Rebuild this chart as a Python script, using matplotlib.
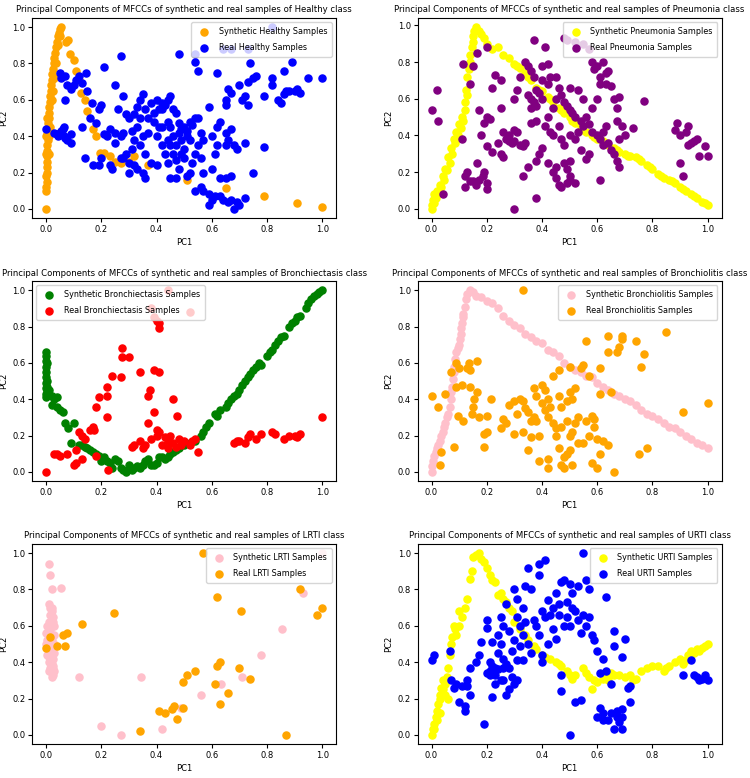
import numpy as np
import matplotlib
matplotlib.use("Agg")
import matplotlib.pyplot as plt

# Healthy
healthy_syn = [
    (0.0, 0.0), (0.0, 0.10), (0.0, 0.12), (0.002, 0.15), (0.0, 0.18), (0.003, 0.20), (0.002, 0.23),
    (0.004, 0.26), (0.003, 0.29), (0.0, 0.30), (0.01, 0.30), (0.005, 0.32), (0.004, 0.35), (0.006, 0.38),
    (0.0, 0.40), (0.01, 0.40), (0.005, 0.41), (0.008, 0.44), (0.015, 0.45), (0.007, 0.47), (0.01, 0.50),
    (0.005, 0.50), (0.011, 0.53), (0.012, 0.56), (0.014, 0.59), (0.02, 0.60), (0.015, 0.62), (0.017, 0.65),
    (0.025, 0.65), (0.019, 0.68), (0.02, 0.71), (0.03, 0.72), (0.022, 0.74), (0.025, 0.77), (0.027, 0.80),
    (0.035, 0.80), (0.03, 0.83), (0.033, 0.86), (0.036, 0.89), (0.045, 0.90), (0.04, 0.92), (0.044, 0.95),
    (0.05, 0.95), (0.048, 0.97), (0.052, 0.99), (0.055, 1.0),
    (0.073, 0.92), (0.079, 0.93), (0.085, 0.85), (0.10, 0.82), (0.107, 0.76), (0.118, 0.71), (0.125, 0.64),
    (0.14, 0.60), (0.148, 0.54), (0.17, 0.44), (0.18, 0.40), (0.195, 0.31), (0.21, 0.31), (0.23, 0.29),
    (0.25, 0.26), (0.27, 0.25), (0.30, 0.26), (0.32, 0.29), (0.37, 0.24), (0.51, 0.16), (0.65, 0.115),
    (0.79, 0.07), (0.91, 0.03), (1.0, 0.01),
]
healthy_real = [
    (0.0, 0.44), (0.03, 0.42), (0.04, 0.41), (0.05, 0.42), (0.06, 0.44), (0.065, 0.40), (0.07, 0.39),
    (0.075, 0.38), (0.09, 0.41), (0.09, 0.36), (0.055, 0.43), (0.045, 0.40), (0.065, 0.45),
    (0.05, 0.75), (0.055, 0.72), (0.07, 0.73), (0.075, 0.68), (0.09, 0.66), (0.10, 0.68), (0.11, 0.71),
    (0.13, 0.69), (0.145, 0.75), (0.15, 0.65), (0.12, 0.73), (0.07, 0.60), (0.165, 0.58), (0.16, 0.50),
    (0.18, 0.47), (0.19, 0.55), (0.20, 0.57), (0.21, 0.78), (0.27, 0.84), (0.13, 0.45), (0.14, 0.28),
    (0.17, 0.24), (0.19, 0.24), (0.20, 0.28), (0.21, 0.41), (0.22, 0.40), (0.23, 0.24), (0.24, 0.22),
    (0.25, 0.36), (0.26, 0.55), (0.25, 0.68), (0.28, 0.62), (0.27, 0.40), (0.28, 0.28), (0.30, 0.25),
    (0.29, 0.52), (0.30, 0.50), (0.32, 0.52), (0.33, 0.56), (0.34, 0.60), (0.35, 0.63), (0.34, 0.50),
    (0.36, 0.55), (0.33, 0.45), (0.31, 0.43), (0.32, 0.38), (0.34, 0.35), (0.36, 0.30), (0.35, 0.20),
    (0.36, 0.17), (0.33, 0.22), (0.32, 0.24), (0.37, 0.50), (0.39, 0.48), (0.40, 0.60), (0.41, 0.55),
    (0.42, 0.58), (0.43, 0.57), (0.44, 0.60), (0.45, 0.62), (0.46, 0.55), (0.47, 0.53), (0.48, 0.85),
    (0.40, 0.40), (0.41, 0.45), (0.42, 0.35), (0.43, 0.30), (0.44, 0.25), (0.45, 0.17), (0.47, 0.17),
    (0.48, 0.22), (0.46, 0.40), (0.47, 0.35), (0.48, 0.42), (0.49, 0.38), (0.50, 0.45), (0.51, 0.40),
    (0.50, 0.33), (0.52, 0.48), (0.53, 0.46), (0.54, 0.50), (0.55, 0.50), (0.56, 0.42), (0.57, 0.38),
    (0.55, 0.35), (0.54, 0.30), (0.53, 0.25), (0.52, 0.20), (0.51, 0.18), (0.56, 0.28), (0.57, 0.20),
    (0.54, 0.10), (0.56, 0.12), (0.57, 0.10), (0.59, 0.08), (0.60, 0.05), (0.59, 0.02), (0.61, 0.07),
    (0.63, 0.07), (0.64, 0.05), (0.66, 0.04), (0.67, 0.05), (0.68, 0.0), (0.69, 0.04), (0.70, 0.02),
    (0.72, 0.06), (0.75, 0.20), (0.67, 0.18), (0.65, 0.17), (0.63, 0.17), (0.60, 0.22), (0.61, 0.30),
    (0.62, 0.35), (0.60, 0.40), (0.62, 0.45), (0.63, 0.48), (0.65, 0.42), (0.66, 0.38), (0.65, 0.35),
    (0.67, 0.44), (0.68, 0.35), (0.69, 0.33), (0.72, 0.36), (0.79, 0.34), (0.59, 0.56), (0.54, 0.85),
    (0.54, 0.81), (0.55, 0.76), (0.62, 0.75), (0.64, 0.88), (0.67, 0.88), (0.66, 0.66), (0.67, 0.64),
    (0.65, 0.60), (0.65, 0.57), (0.70, 0.68), (0.72, 0.62), (0.73, 0.70), (0.71, 0.60), (0.73, 0.57),
    (0.75, 0.72), (0.74, 0.80), (0.73, 0.88), (0.76, 0.73), (0.79, 0.62), (0.82, 0.68), (0.82, 0.72),
    (0.84, 0.60), (0.85, 0.58), (0.86, 0.63), (0.86, 0.76), (0.87, 0.65), (0.88, 0.65), (0.89, 0.81),
    (0.90, 0.65), (0.91, 0.66), (0.92, 0.64), (0.95, 0.72), (1.0, 0.72), (0.82, 1.0), (0.42, 0.55),
    (0.44, 0.48), (0.45, 0.45), (0.38, 0.58), (0.39, 0.53), (0.48, 0.47), (0.49, 0.44), (0.51, 0.43),
    (0.52, 0.38), (0.46, 0.30), (0.47, 0.27), (0.49, 0.30), (0.50, 0.28), (0.42, 0.45), (0.44, 0.38),
    (0.45, 0.35), (0.35, 0.40), (0.37, 0.42), (0.38, 0.25), (0.40, 0.24), (0.28, 0.42), (0.25, 0.42),
    (0.23, 0.44), (0.29, 0.30), (0.31, 0.33), (0.30, 0.20), (0.27, 0.28),
]

# Pneumonia
pneumonia_syn = [
    (0.0, 0.0), (0.0, 0.02), (0.005, 0.05), (0.01, 0.03), (0.01, 0.08), (0.015, 0.06), (0.02, 0.10),
    (0.025, 0.09), (0.03, 0.13), (0.035, 0.12), (0.04, 0.18), (0.045, 0.16), (0.05, 0.22), (0.055, 0.21),
    (0.06, 0.28), (0.065, 0.25), (0.07, 0.33), (0.075, 0.30), (0.08, 0.38), (0.085, 0.36), (0.09, 0.42),
    (0.095, 0.40), (0.10, 0.46), (0.105, 0.44), (0.11, 0.50), (0.115, 0.48), (0.12, 0.58), (0.12, 0.54),
    (0.125, 0.65), (0.13, 0.62), (0.13, 0.72), (0.135, 0.76), (0.14, 0.80), (0.14, 0.84), (0.145, 0.88),
    (0.15, 0.94), (0.15, 0.91), (0.16, 0.99), (0.155, 0.97),
    (0.17, 0.97), (0.18, 0.95), (0.19, 0.93), (0.20, 0.90), (0.22, 0.87), (0.24, 0.88), (0.26, 0.84),
    (0.28, 0.82), (0.30, 0.79), (0.31, 0.78), (0.32, 0.77), (0.34, 0.74), (0.35, 0.72), (0.36, 0.70),
    (0.38, 0.66), (0.39, 0.65), (0.40, 0.64), (0.42, 0.61), (0.43, 0.60), (0.44, 0.58), (0.46, 0.55),
    (0.47, 0.54), (0.48, 0.52), (0.50, 0.50), (0.51, 0.48), (0.52, 0.47), (0.54, 0.45), (0.55, 0.43),
    (0.56, 0.42), (0.58, 0.40), (0.59, 0.39), (0.60, 0.38), (0.62, 0.37), (0.63, 0.36), (0.64, 0.35),
    (0.66, 0.33), (0.67, 0.32), (0.68, 0.31), (0.70, 0.30), (0.71, 0.29), (0.72, 0.29), (0.74, 0.28),
    (0.75, 0.27), (0.76, 0.26), (0.78, 0.24), (0.79, 0.23), (0.80, 0.22), (0.82, 0.19), (0.83, 0.18),
    (0.84, 0.17), (0.86, 0.16), (0.87, 0.15), (0.88, 0.14), (0.90, 0.12), (0.91, 0.11), (0.92, 0.10),
    (0.94, 0.08), (0.95, 0.07), (0.96, 0.06), (0.98, 0.04), (0.99, 0.03), (1.0, 0.02),
]
pneumonia_real = [
    (0.0, 0.54), (0.02, 0.65), (0.025, 0.48), (0.04, 0.08), (0.11, 0.38), (0.115, 0.79), (0.14, 0.68),
    (0.15, 0.78), (0.165, 0.85), (0.165, 0.25), (0.17, 0.54), (0.18, 0.40), (0.19, 0.47), (0.20, 0.50),
    (0.21, 0.49), (0.20, 0.88), (0.23, 0.73), (0.22, 0.66), (0.25, 0.70), (0.25, 0.55), (0.26, 0.42),
    (0.27, 0.38), (0.28, 0.40), (0.29, 0.36), (0.30, 0.37), (0.31, 0.42), (0.32, 0.35), (0.33, 0.34),
    (0.34, 0.36), (0.30, 0.60), (0.31, 0.65), (0.32, 0.72), (0.34, 0.80), (0.35, 0.78), (0.36, 0.75),
    (0.37, 0.72), (0.38, 0.65), (0.39, 0.63), (0.40, 0.60), (0.36, 0.60), (0.37, 0.58), (0.38, 0.56),
    (0.35, 0.62), (0.36, 0.55), (0.38, 0.48), (0.36, 0.47), (0.37, 0.92), (0.41, 0.88), (0.40, 0.70),
    (0.42, 0.68), (0.43, 0.72), (0.45, 0.72), (0.46, 0.66), (0.47, 0.62), (0.48, 0.58), (0.49, 0.56),
    (0.50, 0.54), (0.51, 0.52), (0.52, 0.50), (0.50, 0.66), (0.45, 0.60), (0.44, 0.55), (0.42, 0.50),
    (0.41, 0.45), (0.43, 0.42), (0.44, 0.40), (0.46, 0.45), (0.47, 0.38), (0.48, 0.35), (0.50, 0.40),
    (0.52, 0.38), (0.53, 0.42), (0.54, 0.48), (0.55, 0.45), (0.56, 0.50), (0.57, 0.46), (0.58, 0.42),
    (0.60, 0.40), (0.58, 0.55), (0.60, 0.60), (0.55, 0.60), (0.53, 0.65), (0.48, 0.93), (0.49, 0.92),
    (0.52, 0.91), (0.55, 0.90), (0.57, 0.87), (0.58, 0.80), (0.59, 0.76), (0.60, 0.78), (0.61, 0.72),
    (0.62, 0.80), (0.63, 0.74), (0.64, 0.75), (0.61, 0.68), (0.63, 0.68), (0.65, 0.67), (0.66, 0.60),
    (0.68, 0.61), (0.67, 0.55), (0.63, 0.45), (0.62, 0.42), (0.61, 0.38), (0.62, 0.35), (0.64, 0.36),
    (0.65, 0.32), (0.66, 0.30), (0.67, 0.26), (0.68, 0.23), (0.68, 0.38), (0.69, 0.45), (0.70, 0.40),
    (0.67, 0.48), (0.73, 0.44), (0.77, 0.59), (0.61, 0.16), (0.56, 0.27), (0.57, 0.30), (0.54, 0.32),
    (0.50, 0.26), (0.50, 0.18), (0.49, 0.22), (0.48, 0.25), (0.45, 0.23), (0.44, 0.20), (0.45, 0.17),
    (0.46, 0.13), (0.47, 0.12), (0.49, 0.14), (0.50, 0.16), (0.52, 0.14), (0.42, 0.25), (0.40, 0.33),
    (0.39, 0.30), (0.38, 0.26), (0.35, 0.23), (0.33, 0.18), (0.38, 0.06), (0.30, 0.0), (0.20, 0.11),
    (0.20, 0.14), (0.19, 0.20), (0.17, 0.16), (0.16, 0.13), (0.15, 0.15), (0.14, 0.15), (0.13, 0.20),
    (0.12, 0.18), (0.12, 0.12), (0.185, 0.18), (0.20, 0.34), (0.22, 0.31), (0.24, 0.36), (0.25, 0.30),
    (0.26, 0.28), (0.88, 0.43), (0.89, 0.47), (0.90, 0.40), (0.92, 0.42), (0.93, 0.35), (0.94, 0.36),
    (0.93, 0.45), (0.95, 0.37), (0.96, 0.38), (0.97, 0.29), (0.99, 0.34), (1.0, 0.29), (0.90, 0.25),
    (0.91, 0.18), (0.40, 0.78), (0.42, 0.79), (0.28, 0.37), (0.30, 0.43),
]

# Bronchiectasis
bronchiectasis_syn = [
    (0.0, 0.41), (0.0, 0.43), (0.0, 0.46), (0.0, 0.49), (0.0, 0.52), (0.0, 0.55), (0.0, 0.58),
    (0.0, 0.61), (0.0, 0.64), (0.0, 0.66), (0.005, 0.47), (0.005, 0.50), (0.005, 0.44), (0.005, 0.60),
    (0.01, 0.45), (0.02, 0.42), (0.03, 0.40), (0.04, 0.41), (0.02, 0.37), (0.04, 0.36), (0.05, 0.34),
    (0.06, 0.33), (0.07, 0.27), (0.08, 0.24), (0.10, 0.27), (0.09, 0.16), (0.12, 0.15), (0.13, 0.15),
    (0.14, 0.14), (0.15, 0.13), (0.16, 0.12), (0.17, 0.11), (0.18, 0.10), (0.19, 0.09), (0.20, 0.06),
    (0.21, 0.08), (0.22, 0.06), (0.23, 0.05), (0.24, 0.02), (0.25, 0.07), (0.26, 0.06), (0.27, 0.02),
    (0.28, 0.01), (0.29, 0.0), (0.30, 0.04), (0.31, 0.01), (0.32, 0.02), (0.33, 0.03), (0.34, 0.02),
    (0.35, 0.04), (0.36, 0.06), (0.37, 0.07), (0.38, 0.04), (0.39, 0.04), (0.40, 0.05), (0.41, 0.08),
    (0.42, 0.08), (0.43, 0.07), (0.44, 0.08), (0.45, 0.10), (0.46, 0.11), (0.47, 0.12), (0.48, 0.13),
    (0.50, 0.15), (0.52, 0.16), (0.54, 0.17), (0.56, 0.20), (0.57, 0.22), (0.58, 0.25), (0.59, 0.27),
    (0.61, 0.32), (0.62, 0.31), (0.63, 0.34), (0.65, 0.36), (0.66, 0.38), (0.67, 0.40), (0.68, 0.42),
    (0.69, 0.43), (0.70, 0.45), (0.71, 0.48), (0.72, 0.50), (0.73, 0.52), (0.74, 0.54), (0.75, 0.56),
    (0.76, 0.58), (0.77, 0.60), (0.78, 0.59), (0.80, 0.64), (0.81, 0.66), (0.82, 0.67), (0.83, 0.70),
    (0.84, 0.72), (0.85, 0.74), (0.86, 0.75), (0.88, 0.80), (0.89, 0.82), (0.90, 0.83), (0.91, 0.85),
    (0.92, 0.86), (0.94, 0.90), (0.95, 0.93), (0.96, 0.95), (0.97, 0.97), (0.98, 0.98), (0.99, 0.99),
    (1.0, 1.0),
]
bronchiectasis_real = [
    (0.0, 0.0), (0.03, 0.10), (0.04, 0.10), (0.05, 0.09), (0.075, 0.10), (0.10, 0.04), (0.11, 0.05),
    (0.11, 0.12), (0.12, 0.22), (0.13, 0.20), (0.14, 0.18), (0.13, 0.07), (0.16, 0.23), (0.17, 0.25),
    (0.175, 0.23), (0.18, 0.09), (0.18, 0.36), (0.19, 0.41), (0.22, 0.47), (0.22, 0.42), (0.22, 0.30),
    (0.24, 0.53), (0.225, 0.01), (0.27, 0.52), (0.275, 0.63), (0.275, 0.68), (0.30, 0.63), (0.31, 0.14),
    (0.32, 0.15), (0.34, 0.55), (0.34, 0.17), (0.35, 0.13), (0.36, 0.15), (0.37, 0.27), (0.37, 0.42),
    (0.375, 0.45), (0.38, 0.90), (0.39, 0.85), (0.40, 0.83), (0.41, 0.79), (0.41, 0.82), (0.39, 0.56),
    (0.41, 0.55), (0.39, 0.33), (0.38, 0.18), (0.40, 0.20), (0.40, 0.23), (0.41, 0.22), (0.42, 0.15),
    (0.43, 0.19), (0.44, 0.13), (0.44, 0.17), (0.45, 0.20), (0.46, 0.40), (0.475, 0.31), (0.44, 1.0),
    (0.52, 0.88), (0.46, 0.16), (0.47, 0.14), (0.48, 0.18), (0.49, 0.15), (0.50, 0.17), (0.52, 0.15),
    (0.54, 0.18), (0.55, 0.11), (0.53, 0.17), (0.68, 0.16), (0.69, 0.17), (0.70, 0.17), (0.72, 0.16),
    (0.73, 0.19), (0.74, 0.21), (0.76, 0.18), (0.78, 0.21), (0.82, 0.22), (0.83, 0.21), (0.86, 0.18),
    (0.88, 0.20), (0.90, 0.20), (0.91, 0.19), (0.92, 0.21), (1.0, 0.30),
]

# Bronchiolitis
bronchiolitis_syn = [
    (0.0, 0.0), (0.0, 0.03), (0.005, 0.06), (0.01, 0.09), (0.015, 0.11), (0.02, 0.13), (0.025, 0.15),
    (0.03, 0.17), (0.035, 0.20), (0.04, 0.22), (0.045, 0.25), (0.05, 0.27), (0.055, 0.30), (0.06, 0.32),
    (0.065, 0.36), (0.07, 0.40), (0.072, 0.44), (0.075, 0.47), (0.078, 0.51), (0.08, 0.55), (0.083, 0.58),
    (0.085, 0.62), (0.09, 0.66), (0.095, 0.68), (0.10, 0.70), (0.103, 0.73), (0.105, 0.76), (0.108, 0.79),
    (0.11, 0.82), (0.113, 0.85), (0.115, 0.87), (0.12, 0.91), (0.125, 0.95), (0.13, 0.98), (0.14, 1.0),
    (0.15, 0.99), (0.16, 0.97), (0.18, 0.96), (0.20, 0.94), (0.22, 0.93), (0.24, 0.90), (0.26, 0.86),
    (0.28, 0.83), (0.30, 0.81), (0.32, 0.79), (0.34, 0.76), (0.36, 0.74), (0.38, 0.72), (0.40, 0.71),
    (0.42, 0.67), (0.44, 0.66), (0.46, 0.64), (0.48, 0.60), (0.50, 0.58), (0.52, 0.56), (0.54, 0.55),
    (0.56, 0.53), (0.58, 0.52), (0.60, 0.49), (0.62, 0.47), (0.64, 0.45), (0.66, 0.43), (0.68, 0.42),
    (0.70, 0.40), (0.72, 0.39), (0.74, 0.37), (0.76, 0.34), (0.78, 0.32), (0.80, 0.31), (0.82, 0.29),
    (0.84, 0.27), (0.86, 0.25), (0.88, 0.24), (0.90, 0.22), (0.92, 0.20), (0.94, 0.18), (0.96, 0.16),
    (0.98, 0.15), (1.0, 0.13),
]
bronchiolitis_real = [
    (0.0, 0.42), (0.025, 0.36), (0.03, 0.04), (0.035, 0.11), (0.05, 0.43), (0.07, 0.55), (0.08, 0.14),
    (0.09, 0.60), (0.09, 0.47), (0.095, 0.31), (0.10, 0.57), (0.11, 0.48), (0.115, 0.28), (0.13, 0.57),
    (0.135, 0.60), (0.14, 0.47), (0.14, 0.56), (0.145, 0.32), (0.15, 0.36), (0.155, 0.40), (0.165, 0.44),
    (0.165, 0.61), (0.17, 0.30), (0.19, 0.21), (0.19, 0.14), (0.20, 0.22), (0.20, 0.31), (0.215, 0.40),
    (0.25, 0.24), (0.26, 0.29), (0.27, 0.27), (0.28, 0.37), (0.30, 0.21), (0.30, 0.39), (0.31, 0.32),
    (0.32, 0.40), (0.33, 0.22), (0.33, 0.39), (0.34, 0.35), (0.35, 0.33), (0.35, 0.12), (0.36, 0.28),
    (0.36, 0.19), (0.37, 0.30), (0.37, 0.46), (0.38, 0.42), (0.38, 0.28), (0.39, 0.20), (0.39, 0.06),
    (0.40, 0.48), (0.40, 0.38), (0.41, 0.45), (0.41, 0.34), (0.42, 0.40), (0.42, 0.30), (0.42, 0.07),
    (0.42, 0.02), (0.43, 0.36), (0.44, 0.53), (0.44, 0.27), (0.45, 0.20), (0.45, 0.24), (0.46, 0.42),
    (0.46, 0.56), (0.46, 0.13), (0.47, 0.36), (0.47, 0.25), (0.48, 0.08), (0.48, 0.02), (0.47, 0.04),
    (0.49, 0.39), (0.49, 0.28), (0.49, 0.10), (0.50, 0.44), (0.50, 0.58), (0.50, 0.20), (0.50, 0.12),
    (0.51, 0.40), (0.51, 0.22), (0.51, 0.04), (0.52, 0.46), (0.52, 0.27), (0.53, 0.30), (0.53, 0.16),
    (0.54, 0.57), (0.55, 0.59), (0.55, 0.16), (0.56, 0.28), (0.56, 0.72), (0.57, 0.53), (0.57, 0.20),
    (0.58, 0.31), (0.58, 0.05), (0.59, 0.25), (0.59, 0.29), (0.60, 0.18), (0.60, 0.02), (0.61, 0.57),
    (0.61, 0.43), (0.61, 0.10), (0.62, 0.17), (0.64, 0.75), (0.64, 0.66), (0.64, 0.15), (0.65, 0.44),
    (0.66, 0.0), (0.67, 0.66), (0.68, 0.69), (0.69, 0.73), (0.69, 0.75), (0.74, 0.72), (0.76, 0.58),
    (0.77, 0.65), (0.75, 0.10), (0.78, 0.13), (0.85, 0.77), (0.91, 0.33), (1.0, 0.38), (0.33, 1.0),
]

# LRTI
lrti_syn = [
    (0.005, 0.60), (0.01, 0.62), (0.015, 0.58), (0.02, 0.60), (0.025, 0.62), (0.01, 0.55), (0.02, 0.55),
    (0.005, 0.52), (0.015, 0.50), (0.025, 0.50), (0.01, 0.47), (0.02, 0.46), (0.005, 0.44), (0.015, 0.43),
    (0.025, 0.42), (0.01, 0.40), (0.02, 0.39), (0.015, 0.37), (0.025, 0.36), (0.02, 0.34), (0.02, 0.32),
    (0.01, 0.35), (0.025, 0.38), (0.03, 0.45), (0.03, 0.55), (0.025, 0.65), (0.02, 0.68), (0.015, 0.66),
    (0.03, 0.60), (0.0, 0.50), (0.0, 0.56), (0.005, 0.48), (0.01, 0.43), (0.02, 0.41), (0.03, 0.50),
    (0.01, 0.58), (0.02, 0.52), (0.015, 0.70), (0.03, 0.35), (0.025, 0.33), (0.01, 0.72), (0.02, 0.70),
    (0.01, 0.94), (0.015, 0.88), (0.02, 0.80), (0.055, 0.81), (0.12, 0.32), (0.345, 0.32), (0.20, 0.05),
    (0.27, 0.0), (0.42, 0.035), (0.49, 0.15), (0.56, 0.22), (0.635, 0.28), (0.71, 0.32), (0.78, 0.44),
    (0.855, 0.58), (0.93, 0.78), (1.0, 1.0),
]
lrti_real = [
    (0.0, 0.48), (0.015, 0.54), (0.04, 0.49), (0.06, 0.55), (0.07, 0.49), (0.075, 0.56), (0.13, 0.61),
    (0.245, 0.67), (0.34, 0.02), (0.41, 0.13), (0.43, 0.12), (0.455, 0.14), (0.465, 0.16), (0.475, 0.09),
    (0.495, 0.15), (0.495, 0.29), (0.51, 0.33), (0.54, 0.35), (0.57, 1.0), (0.61, 0.28), (0.62, 0.38),
    (0.63, 0.40), (0.62, 0.76), (0.63, 0.17), (0.66, 0.23), (0.70, 0.37), (0.705, 0.68), (0.74, 0.31),
    (0.87, 0.0), (0.92, 0.80), (0.98, 0.66), (1.0, 0.70),
]

# URTI
urti_syn = [
    (0.0, 0.0), (0.005, 0.03), (0.01, 0.03), (0.01, 0.06), (0.015, 0.10), (0.02, 0.08), (0.02, 0.13),
    (0.025, 0.17), (0.03, 0.12), (0.03, 0.20), (0.03, 0.22), (0.035, 0.26), (0.04, 0.25), (0.04, 0.30),
    (0.05, 0.22), (0.05, 0.28), (0.055, 0.32), (0.06, 0.20), (0.06, 0.37), (0.065, 0.44), (0.07, 0.50),
    (0.075, 0.54), (0.08, 0.60), (0.085, 0.58), (0.09, 0.55), (0.10, 0.60), (0.10, 0.68), (0.11, 0.65),
    (0.12, 0.70), (0.13, 0.75), (0.14, 0.86), (0.145, 0.90), (0.15, 0.98), (0.16, 0.99), (0.17, 1.0),
    (0.18, 0.97), (0.19, 0.95), (0.20, 0.92), (0.21, 0.88), (0.22, 0.85), (0.23, 0.84), (0.24, 0.77),
    (0.25, 0.78), (0.26, 0.75), (0.27, 0.73), (0.28, 0.70), (0.29, 0.68), (0.30, 0.62), (0.32, 0.58),
    (0.34, 0.55), (0.35, 0.52), (0.37, 0.49), (0.38, 0.47), (0.40, 0.44), (0.41, 0.43), (0.43, 0.42),
    (0.45, 0.40), (0.46, 0.39), (0.47, 0.38), (0.49, 0.35), (0.50, 0.33), (0.51, 0.31), (0.52, 0.33),
    (0.55, 0.37), (0.56, 0.34), (0.57, 0.32), (0.58, 0.25), (0.59, 0.30), (0.60, 0.29), (0.62, 0.31),
    (0.63, 0.32), (0.64, 0.30), (0.65, 0.34), (0.66, 0.33), (0.68, 0.33), (0.70, 0.32), (0.72, 0.33),
    (0.73, 0.30), (0.74, 0.31), (0.76, 0.35), (0.78, 0.37), (0.80, 0.38), (0.82, 0.38), (0.84, 0.35),
    (0.85, 0.37), (0.86, 0.38), (0.88, 0.40), (0.90, 0.42), (0.91, 0.39), (0.92, 0.41), (0.93, 0.44),
    (0.94, 0.46), (0.95, 0.45), (0.96, 0.47), (0.97, 0.46), (0.98, 0.48), (0.99, 0.49), (1.0, 0.50),
]
urti_real = [
    (0.0, 0.41), (0.01, 0.44), (0.065, 0.46), (0.07, 0.30), (0.08, 0.26), (0.09, 0.28), (0.10, 0.18),
    (0.11, 0.27), (0.12, 0.13), (0.12, 0.16), (0.13, 0.30), (0.13, 0.27), (0.14, 0.37), (0.14, 0.22),
    (0.16, 0.40), (0.17, 0.44), (0.18, 0.51), (0.19, 0.06), (0.20, 0.34), (0.20, 0.63), (0.20, 0.59),
    (0.21, 0.40), (0.21, 0.35), (0.22, 0.51), (0.22, 0.21), (0.23, 0.37), (0.23, 0.33), (0.24, 0.45),
    (0.24, 0.55), (0.25, 0.65), (0.25, 0.50), (0.25, 0.30), (0.26, 0.42), (0.26, 0.60), (0.27, 0.72),
    (0.27, 0.39), (0.27, 0.22), (0.28, 0.37), (0.28, 0.57), (0.29, 0.32), (0.29, 0.46), (0.30, 0.80),
    (0.30, 0.52), (0.30, 0.28), (0.31, 0.75), (0.31, 0.65), (0.31, 0.41), (0.32, 0.60), (0.32, 0.49),
    (0.33, 0.70), (0.33, 0.55), (0.33, 0.41), (0.34, 0.82), (0.34, 0.62), (0.35, 0.92), (0.35, 0.50),
    (0.36, 0.80), (0.36, 0.45), (0.37, 0.63), (0.38, 0.60), (0.39, 0.94), (0.39, 0.88), (0.39, 0.55),
    (0.40, 0.68), (0.40, 0.44), (0.40, 0.40), (0.41, 0.96), (0.41, 0.65), (0.42, 0.50), (0.42, 0.74),
    (0.43, 0.66), (0.44, 0.70), (0.44, 0.58), (0.45, 0.78), (0.45, 0.53), (0.46, 0.72), (0.46, 0.66),
    (0.47, 0.84), (0.47, 0.33), (0.47, 0.24), (0.48, 0.60), (0.48, 0.85), (0.49, 0.73), (0.49, 0.65),
    (0.50, 0.83), (0.50, 0.60), (0.50, 0.0), (0.51, 0.70), (0.51, 0.78), (0.52, 0.18), (0.52, 0.68),
    (0.53, 0.82), (0.53, 0.63), (0.54, 0.19), (0.54, 0.56), (0.55, 1.0), (0.55, 0.66), (0.56, 0.85),
    (0.56, 0.60), (0.57, 0.80), (0.57, 0.65), (0.58, 0.55), (0.59, 0.52), (0.60, 0.46), (0.60, 0.10),
    (0.61, 0.34), (0.61, 0.15), (0.62, 0.12), (0.62, 0.42), (0.62, 0.08), (0.63, 0.35), (0.63, 0.76),
    (0.64, 0.08), (0.65, 0.28), (0.65, 0.12), (0.66, 0.57), (0.66, 0.49), (0.66, 0.03), (0.67, 0.10),
    (0.67, 0.13), (0.68, 0.07), (0.69, 0.43), (0.69, 0.14), (0.69, 0.10), (0.69, 0.03), (0.70, 0.53),
    (0.71, 0.26), (0.72, 0.27), (0.72, 0.18), (0.91, 0.33), (0.94, 0.41), (0.95, 0.33), (0.96, 0.32),
    (0.97, 0.30), (0.98, 0.31), (0.99, 0.33), (1.0, 0.30), (0.23, 0.28), (0.26, 0.30), (0.28, 0.25),
    (0.31, 0.30), (0.24, 0.36), (0.21, 0.33), (0.22, 0.38), (0.26, 0.37),
]

classes = ["Healthy", "Pneumonia", "Bronchiectasis", "Bronchiolitis", "LRTI", "URTI"]
synthetic = [healthy_syn, pneumonia_syn, bronchiectasis_syn, bronchiolitis_syn, lrti_syn, urti_syn]
real = [healthy_real, pneumonia_real, bronchiectasis_real, bronchiolitis_real, lrti_real, urti_real]
syn_colors = ["orange", "yellow", "green", "pink", "pink", "yellow"]
real_colors = ["blue", "purple", "red", "orange", "orange", "blue"]
legend_loc = ["upper right", "upper right", "upper left", "upper right", "upper right", "upper right"]

fig = plt.figure(figsize=(7.5, 7.78), dpi=100)
lefts = [0.043, 0.557]
bottoms = [0.7198, 0.3817, 0.0437]

for i, name in enumerate(classes):
    ax = fig.add_axes([lefts[i % 2], bottoms[i // 2], 0.405, 0.257])
    s = np.array(synthetic[i])
    r = np.array(real[i])
    ax.scatter(s[:, 0], s[:, 1], s=26, color=syn_colors[i], label=f"Synthetic {name} Samples")
    ax.scatter(r[:, 0], r[:, 1], s=26, color=real_colors[i], label=f"Real {name} Samples")
    ax.set_title(f"Principal Components of MFCCs of synthetic and real samples of {name} class",
                 fontsize=6.1, pad=4)
    ax.set_xlabel("PC1", fontsize=6, labelpad=3)
    ax.set_ylabel("PC2", fontsize=6, labelpad=3)
    ax.tick_params(labelsize=6, length=3, pad=2)
    ax.legend(loc=legend_loc[i], fontsize=5.8, labelspacing=0.9, borderpad=0.6)

fig.savefig("out.png", dpi=100)
